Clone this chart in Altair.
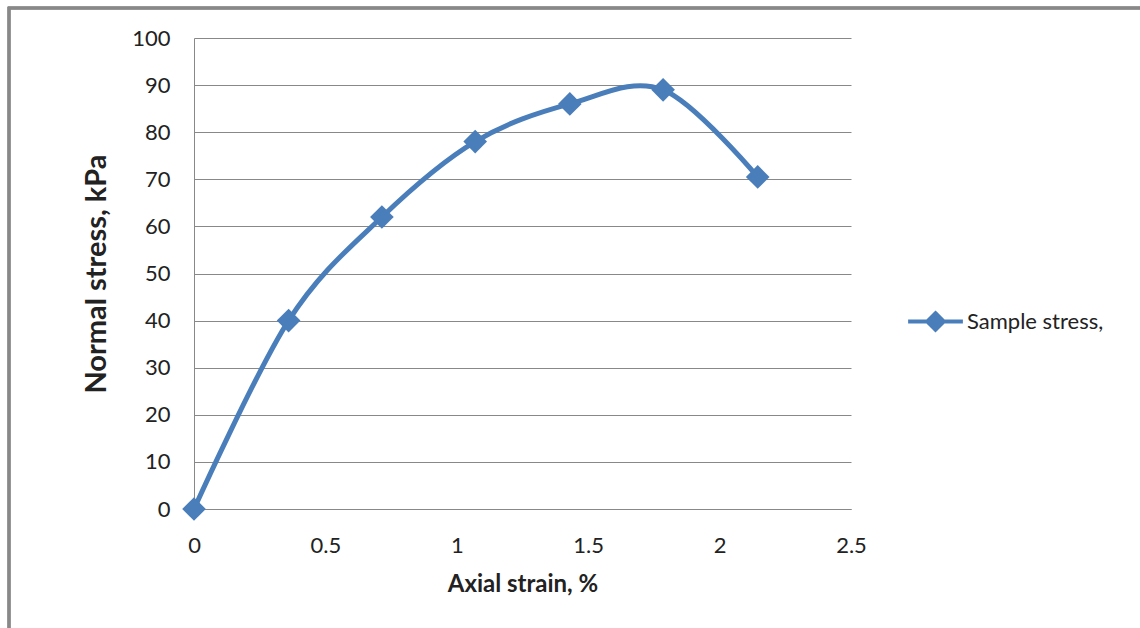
import altair as alt
import pandas as pd

strain = [0, 0.36, 0.715, 1.07, 1.43, 1.785, 2.145]
stress = [0, 40, 62, 78, 86, 89, 70.5]
series = "Sample stress,"

df = pd.DataFrame({"strain": strain, "stress": stress, "series": [series] * len(strain)})

FONT = "Lato"
BLUE = "#4A7EBB"

x = alt.X("strain:Q",
          scale=alt.Scale(domain=[0, 2.5], nice=False),
          axis=alt.Axis(title="Axial strain, %", values=[0, 0.5, 1, 1.5, 2, 2.5],
                        format="~g",
                        grid=False, ticks=False, labelPadding=26, titlePadding=16,
                        labelFontSize=22, titleFontSize=24, titleFontWeight="bold",
                        labelFont=FONT, titleFont=FONT, labelColor="#222", titleColor="#222",
                        domainColor="#888", labelFlush=False, labelOverlap=False))
y = alt.Y("stress:Q",
          scale=alt.Scale(domain=[0, 100], nice=False),
          axis=alt.Axis(title="Normal stress, kPa", values=list(range(0, 101, 10)),
                        grid=True, gridColor="#888", ticks=False, labelPadding=24,
                        titlePadding=20, labelFontSize=22, titleFontSize=29,
                        titleFontWeight="bold", labelFont=FONT, titleFont=FONT,
                        labelColor="#222", titleColor="#222", domainColor="#888"))

color = alt.Color("series:N",
                  scale=alt.Scale(range=[BLUE]),
                  legend=alt.Legend(title=None, orient="none", legendX=712, legendY=254,
                                    symbolType="M-1,0H1M0,-0.3L0.3,0L0,0.3L-0.3,0Z",
                                    symbolSize=3000, symbolStrokeWidth=4,
                                    symbolFillColor=BLUE, symbolStrokeColor=BLUE,
                                    labelFontSize=22, labelFont=FONT, labelColor="#222",
                                    labelOffset=2))

line = alt.Chart(df).mark_line(strokeWidth=5, interpolate="cardinal", tension=0).encode(
    x=x, y=y, color=color)
points = alt.Chart(df).mark_point(shape="diamond", filled=True, size=560, opacity=1).encode(
    x="strain:Q", y="stress:Q", color=alt.Color("series:N", legend=None))

frame = alt.Chart(df).mark_rect(fill=None, stroke="#888", strokeWidth=2.5).encode(
    x=alt.value(-185), x2=alt.value(1000), y=alt.value(-30), y2=alt.value(700))

chart = alt.layer(frame, line, points).properties(
    width=657, height=471,
    autosize=alt.AutoSizeParams(type="none"),
    padding={"left": 194, "top": 38, "right": 289, "bottom": 119},
).configure(background="white", view=alt.ViewConfig(stroke="transparent", strokeWidth=0))

chart.save("out.html", embed_options={"renderer": "svg", "actions": False})
